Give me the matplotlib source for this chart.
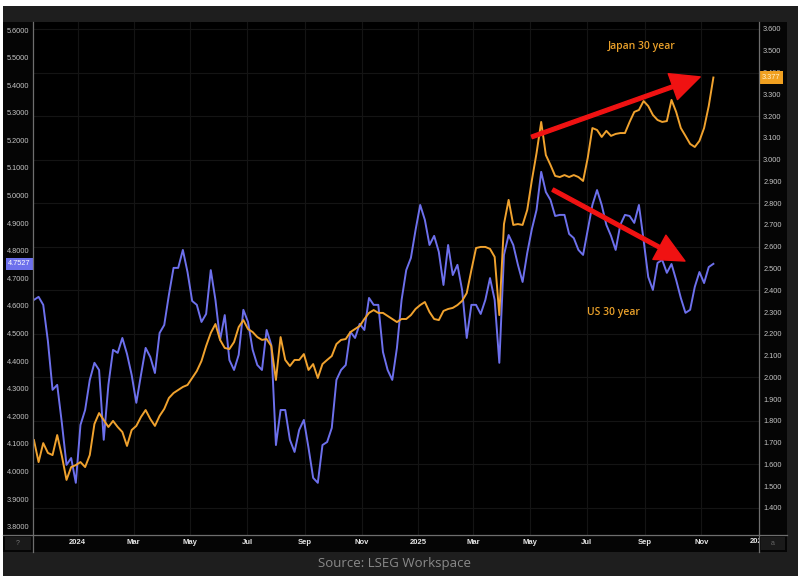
import matplotlib
matplotlib.use("Agg")
import matplotlib.pyplot as plt
import matplotlib.patches as mpatches
import matplotlib.dates as mdates
from matplotlib.lines import Line2D
from matplotlib.transforms import Bbox, TransformedBbox, blended_transform_factory
import numpy as np
import pandas as pd

plt.rcParams["font.family"] = ["Liberation Sans", "DejaVu Sans"]

# 5-day samples, mid Nov 2023 -> mid Nov 2025
dates = pd.date_range("2023-11-15", periods=147, freq="5D")

us30 = [
    4.622, 4.633, 4.604, 4.473, 4.296, 4.314, 4.176, 4.024, 4.049, 3.959,
    4.169, 4.223, 4.332, 4.394, 4.368, 4.115, 4.314, 4.441, 4.430, 4.484,
    4.426, 4.350, 4.249, 4.350, 4.448, 4.415, 4.357, 4.502, 4.531, 4.640,
    4.738, 4.738, 4.803, 4.723, 4.618, 4.604, 4.542, 4.571, 4.730, 4.622,
    4.477, 4.567, 4.404, 4.368, 4.423, 4.586, 4.542, 4.441, 4.386, 4.368,
    4.513, 4.459, 4.096, 4.223, 4.223, 4.115, 4.071, 4.151, 4.187, 4.086,
    3.977, 3.959, 4.096, 4.107, 4.158, 4.332, 4.368, 4.386, 4.506, 4.484,
    4.535, 4.513, 4.629, 4.604, 4.604, 4.433, 4.368, 4.332, 4.448, 4.622,
    4.730, 4.774, 4.875, 4.966, 4.912, 4.821, 4.854, 4.796, 4.676, 4.821,
    4.712, 4.749, 4.658, 4.484, 4.604, 4.604, 4.571, 4.622, 4.701, 4.622,
    4.394, 4.785, 4.857, 4.821, 4.749, 4.687, 4.792, 4.879, 4.948, 5.086,
    5.013, 4.984, 4.926, 4.930, 4.930, 4.861, 4.846, 4.803, 4.785, 4.875,
    4.966, 5.020, 4.966, 4.894, 4.854, 4.803, 4.894, 4.930, 4.926, 4.901,
    4.966, 4.839, 4.705, 4.658, 4.756, 4.767, 4.720, 4.752, 4.694, 4.629,
    4.575, 4.586, 4.669, 4.723, 4.683, 4.741, 4.7527,
]

jp30 = [
    1.712, 1.611, 1.698, 1.653, 1.643, 1.735, 1.639, 1.529, 1.588, 1.597,
    1.611, 1.588, 1.643, 1.786, 1.836, 1.804, 1.772, 1.800, 1.772, 1.749,
    1.685, 1.758, 1.777, 1.818, 1.850, 1.809, 1.777, 1.823, 1.855, 1.905,
    1.928, 1.942, 1.956, 1.965, 1.997, 2.029, 2.075, 2.144, 2.204, 2.245,
    2.172, 2.135, 2.130, 2.162, 2.231, 2.263, 2.222, 2.208, 2.185, 2.172,
    2.176, 2.144, 1.988, 2.185, 2.080, 2.052, 2.080, 2.080, 2.107, 2.034,
    2.061, 1.997, 2.061, 2.080, 2.098, 2.153, 2.172, 2.176, 2.208, 2.222,
    2.236, 2.268, 2.296, 2.309, 2.296, 2.296, 2.282, 2.268, 2.254, 2.268,
    2.268, 2.286, 2.314, 2.332, 2.346, 2.300, 2.268, 2.263, 2.305, 2.314,
    2.319, 2.332, 2.351, 2.387, 2.493, 2.594, 2.599, 2.599, 2.590, 2.553,
    2.286, 2.704, 2.815, 2.700, 2.704, 2.700, 2.769, 2.906, 3.030, 3.173,
    3.021, 2.975, 2.925, 2.920, 2.929, 2.920, 2.929, 2.920, 2.902, 3.008,
    3.145, 3.136, 3.104, 3.132, 3.109, 3.118, 3.122, 3.122, 3.173, 3.219,
    3.228, 3.269, 3.246, 3.205, 3.182, 3.173, 3.177, 3.274, 3.219, 3.145,
    3.109, 3.072, 3.058, 3.086, 3.145, 3.246, 3.377,
]

xtick_dates = pd.to_datetime([
    "2024-01-01", "2024-03-01", "2024-05-01", "2024-07-01", "2024-09-01", "2024-11-01",
    "2025-01-01", "2025-03-01", "2025-05-01", "2025-07-01", "2025-09-01", "2025-11-01",
])
xtick_labels = ["2024", "Mar", "May", "Jul", "Sep", "Nov",
                "2025", "Mar", "May", "Jul", "Sep", "Nov"]
us_ticks = np.round(np.arange(3.8, 5.61, 0.1), 1)
jp_ticks = np.round(np.arange(1.4, 3.61, 0.1), 1)
jp_grid = np.round(np.arange(1.4, 3.61, 0.2), 1)

W, H = 802, 577
fig = plt.figure(figsize=(W / 100, H / 100), dpi=100, facecolor="white")


def box(x0, y0, x1, y1, color, z=0):
    fig.patches.append(mpatches.Rectangle(
        (x0 / W, 1 - y1 / H), (x1 - x0) / W, (y1 - y0) / H,
        transform=fig.transFigure, facecolor=color, edgecolor="none", zorder=z))


def vline(x, y0, y1, color="#6e6e6e"):
    fig.lines.append(Line2D([x / W, x / W], [1 - y0 / H, 1 - y1 / H],
                            transform=fig.transFigure, color=color, lw=0.9, zorder=5))


def hline(y, x0, x1, color="#6e6e6e"):
    fig.lines.append(Line2D([x0 / W, x1 / W], [1 - y / H, 1 - y / H],
                            transform=fig.transFigure, color=color, lw=0.9, zorder=5))


# frame and panels
box(3, 6, 798, 576, "#1e1e1e", z=-3)
box(3, 22, 787, 552, "#050505", z=-2)
box(5, 537, 31, 550, "#1a1a1a", z=-1)
box(761, 537, 785, 550, "#1a1a1a", z=-1)
fig.text(18 / W, 1 - 543.5 / H, "?", color="#777777", fontsize=5, ha="center", va="center")
fig.text(773 / W, 1 - 543.5 / H, "a", color="#666666", fontsize=5, ha="center", va="center")

ax = fig.add_axes([33 / W, 1 - 535 / H, 726 / W, 513 / H])
ax.set_facecolor("black")
ax2 = ax.twinx()
ax.set_zorder(2)
ax2.set_zorder(3)
for a in (ax, ax2):
    for s in a.spines.values():
        s.set_visible(False)

ax.set_xlim(pd.Timestamp("2023-11-14"), pd.Timestamp("2026-01-02"))
ax.set_ylim(3.770, 5.629)
ax2.set_ylim(1.276, 3.632)

# faint grid
gtrans = blended_transform_factory(ax.transAxes, ax2.transData)
for v in jp_grid:
    ax.plot([0, 1], [v, v], transform=gtrans, color="#141414", lw=0.8, zorder=0)
for d in xtick_dates:
    ax.axvline(d, color="#141414", lw=0.8, zorder=0)

ax.plot(dates, us30, color="#6d70ec", lw=1.4, zorder=3)
ax2.plot(dates, jp30, color="#f0a22e", lw=1.4, zorder=3)

ax.set_xticks(xtick_dates)
ax.set_xticklabels(xtick_labels)
ax.tick_params(axis="x", length=0, pad=3, labelsize=5.5, labelcolor="#e6e6e6")
for lab in ax.get_xticklabels():
    lab.set_fontweight("bold")

ax.set_yticks(us_ticks)
ax.set_yticklabels([f"{v:.4f}" for v in us_ticks])
ax.tick_params(axis="y", length=0, pad=2.5, labelsize=5.3, labelcolor="#c4c4c4")
ax2.set_yticks(jp_ticks)
ax2.set_yticklabels([f"{v:.3f}" for v in jp_ticks])
ax2.tick_params(axis="y", length=0, pad=3, labelsize=5.3, labelcolor="#c4c4c4")

# 2026 label clipped by the right axis line
clip = TransformedBbox(Bbox([[0, -1], [1, 1]]), ax.transAxes)
t26 = fig.text(mdates.date2num(pd.Timestamp("2026-01-01")), -0.0136, "2026",
               transform=ax.get_xaxis_transform(), ha="center", va="center",
               fontsize=5.5, color="#e6e6e6", fontweight="bold", clip_on=True)
t26.set_clip_box(clip)

# axis lines
vline(33, 22, 552)
vline(759, 22, 552)
hline(535, 3, 787)

# last-value tags
ax.text(-0.003, us30[-1], f"{us30[-1]:.4f}",
        transform=blended_transform_factory(ax.transAxes, ax.transData),
        ha="right", va="center", fontsize=5.3, color="white", clip_on=False, zorder=10,
        bbox=dict(boxstyle="square,pad=0.3", fc="#6d70ec", ec="none"))
ax2.text(1.004, jp30[-1], f"{jp30[-1]:.3f}",
         transform=blended_transform_factory(ax2.transAxes, ax2.transData),
         ha="left", va="center", fontsize=5.3, color="#fff1cc", clip_on=False, zorder=10,
         bbox=dict(boxstyle="square,pad=0.35", fc="#f0a020", ec="none"))

# annotations
arrow = dict(arrowstyle="simple,head_length=0.95,head_width=0.9,tail_width=0.12",
             color="#f01212", mutation_scale=22, shrinkA=0, shrinkB=0)
ax2.annotate("", xy=(0.919, 0.893), xytext=(0.687, 0.776),
             xycoords="axes fraction", arrowprops=arrow, zorder=8)
ax2.annotate("", xy=(0.898, 0.534), xytext=(0.716, 0.673),
             xycoords="axes fraction", arrowprops=arrow, zorder=8)
ax2.text(0.839, 0.953, "Japan 30 year", transform=ax2.transAxes, ha="center", va="center",
         color="#e9a02a", fontsize=7.5, family="Open Sans", fontweight="semibold")
ax2.text(0.800, 0.433, "US 30 year", transform=ax2.transAxes, ha="center", va="center",
         color="#e9a02a", fontsize=7.5, family="Open Sans", fontweight="semibold")

fig.text(395 / W, 1 - 563 / H, "Source: LSEG Workspace", ha="center", va="center",
         color="#8a8a8a", fontsize=9.5, family="Open Sans")

fig.savefig("out.png", dpi=100, facecolor="white")
